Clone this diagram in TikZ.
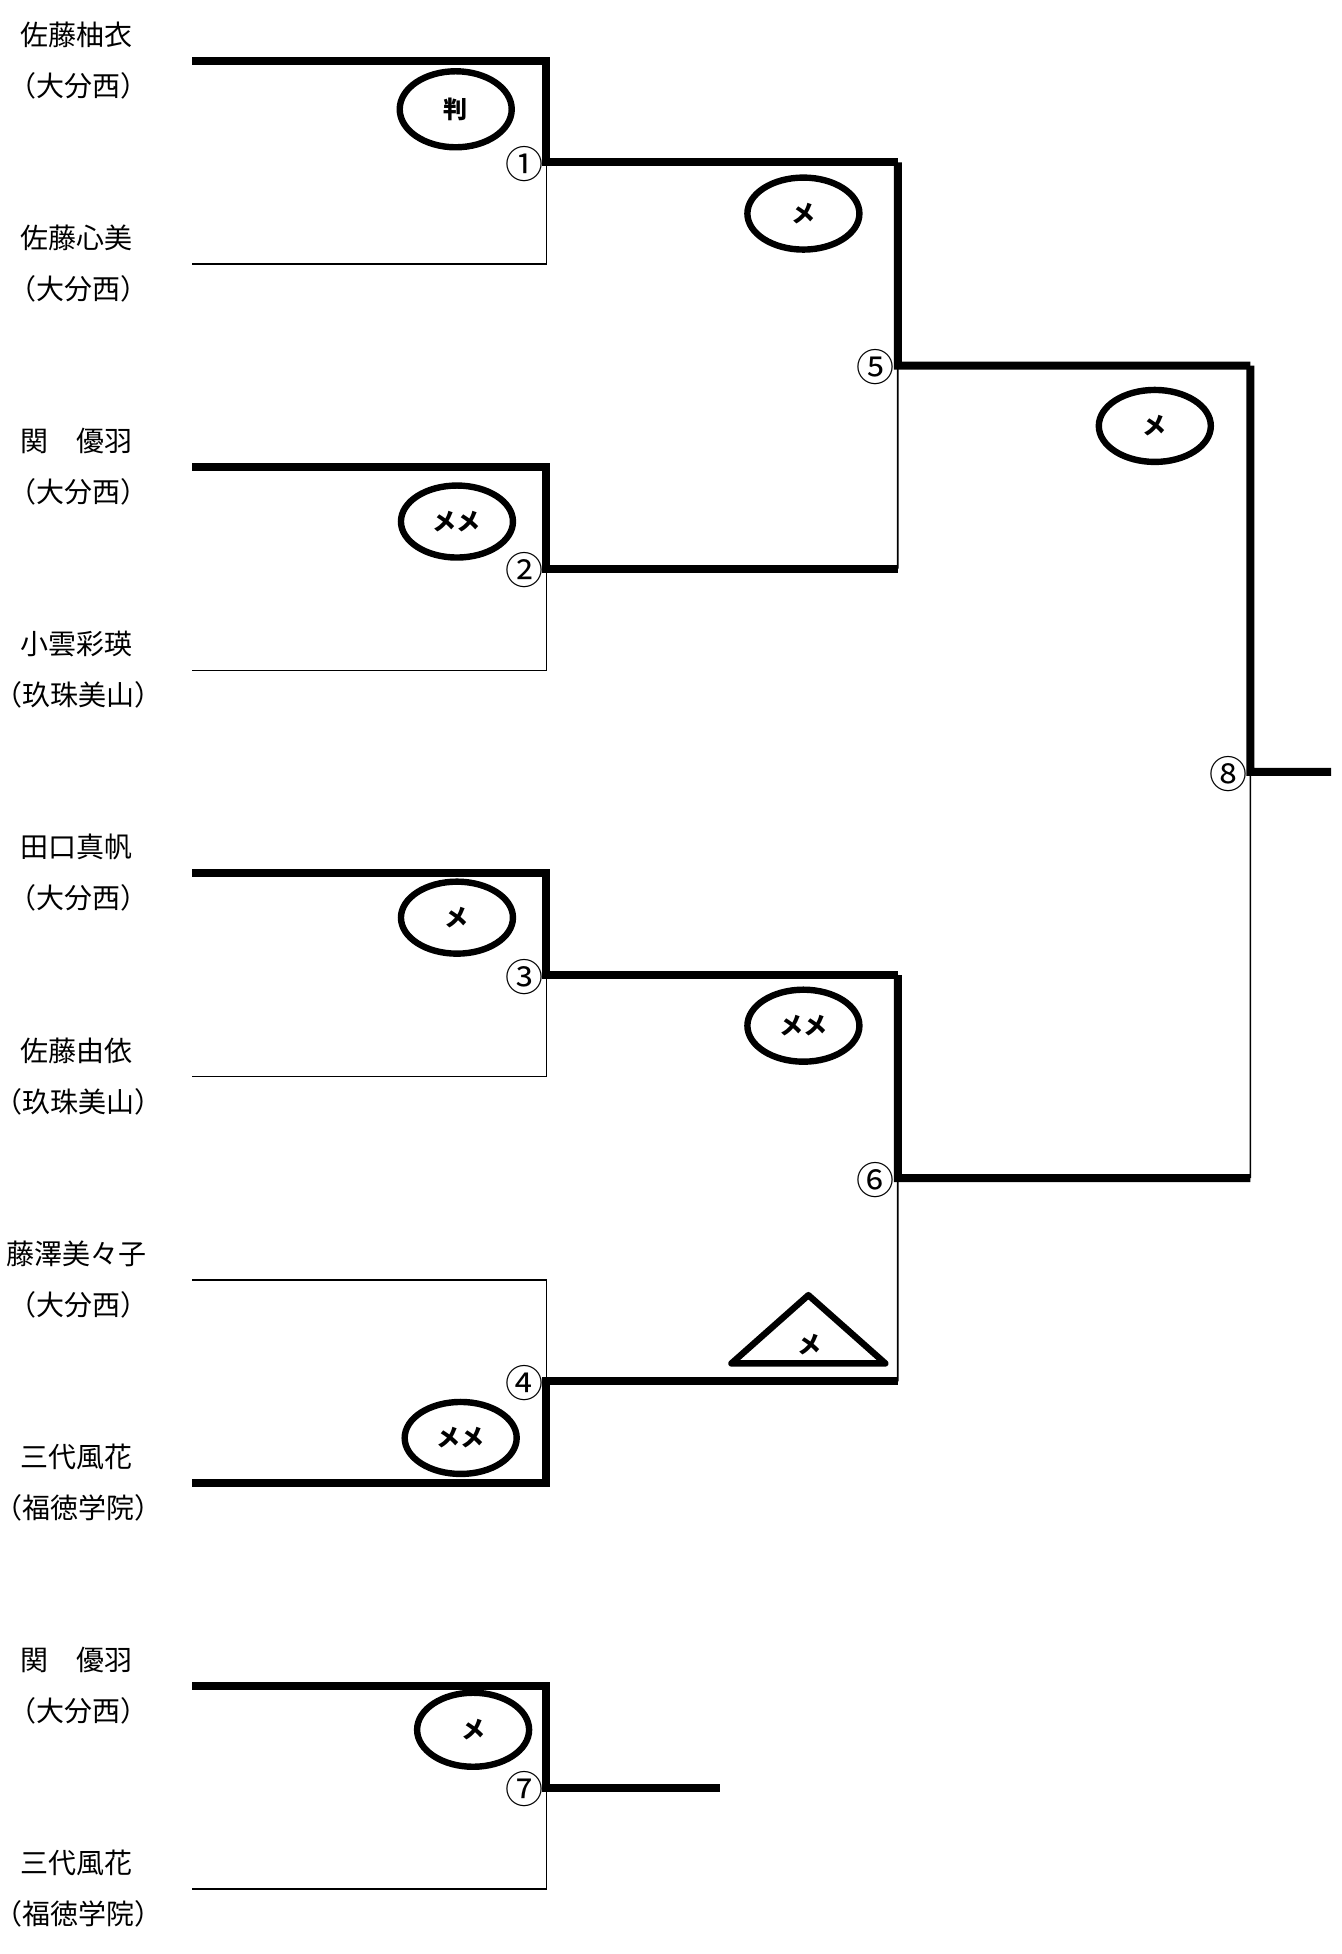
\documentclass[tikz,border=0pt]{standalone}
\usepackage{fontspec}
\newfontfamily\jp{Noto Sans CJK JP}
\newfontfamily\jph{Noto Sans CJK JP}[RawFeature=+halt]
\usetikzlibrary{shapes.geometric, calc}

\tikzset{
    win/.style={line width=4pt},
    lose/.style={line width=0.8pt},
    pname/.style={font=\jp\fontsize{14}{14}\selectfont, inner sep=0pt},
    school/.style={font=\jph\fontsize{14}{14}\selectfont, inner sep=0pt},
    res/.style={draw, ellipse, line width=3.2pt, minimum width=56pt, minimum height=36pt, inner sep=0pt, font=\jp\bfseries\fontsize{12}{12}\selectfont},
    num/.style={font=\jp\fontsize{19}{19}\selectfont, inner sep=0pt, anchor=east}
}

\begin{document}
\begin{tikzpicture}[x=0.6208pt, y=-0.6208pt]
    \useasboundingbox (0,0) rectangle (1080,1573.6);

    % Players, their schools and the start of their lines
    \foreach \i/\nm/\sc in {1/佐藤柚衣/大分西, 2/佐藤心美/大分西, 3/関　優羽/大分西, 4/小雲彩瑛/玖珠美山,
                            5/田口真帆/大分西, 6/佐藤由依/玖珠美山, 7/藤澤美々子/大分西, 8/三代風花/福徳学院,
                            9/関　優羽/大分西, 10/三代風花/福徳学院} {
        \node[pname] (n\i) at (62, {28+163.6*(\i-1)}) {\nm};
        \node[school] (s\i) at (63, {69+163.6*(\i-1)}) {（\sc）};
        \coordinate (p\i) at (155, {49+163.6*(\i-1)});
        \coordinate (q\i) at (440, {49+163.6*(\i-1)});
    }

    % Junctions of the matches
    \coordinate (m1) at ($(q1)!0.5!(q2)$);
    \coordinate (m2) at ($(q3)!0.5!(q4)$);
    \coordinate (m3) at ($(q5)!0.5!(q6)$);
    \coordinate (m4) at ($(q7)!0.5!(q8)$);
    \coordinate (m7) at ($(q9)!0.5!(q10)$);
    \coordinate (r1) at (723, 0 |- m1);
    \coordinate (r2) at (723, 0 |- m2);
    \coordinate (r3) at (723, 0 |- m3);
    \coordinate (r4) at (723, 0 |- m4);
    \coordinate (m5) at ($(r1)!0.5!(r2)$);
    \coordinate (m6) at ($(r3)!0.5!(r4)$);
    \coordinate (t5) at (1007, 0 |- m5);
    \coordinate (t6) at (1007, 0 |- m6);
    \coordinate (m8) at ($(t5)!0.5!(t6)$);
    \coordinate (fin) at (1072, 0 |- m8);
    \coordinate (e7) at (580, 0 |- m7);

    % First round
    \draw[win] (p1) -- (q1) -- (m1) -- (r1);
    \draw[lose] (p2) -- (q2) -- (m1);
    \draw[win] (p3) -- (q3) -- (m2) -- (r2);
    \draw[lose] (p4) -- (q4) -- (m2);
    \draw[win] (p5) -- (q5) -- (m3) -- (r3);
    \draw[lose] (p6) -- (q6) -- (m3);
    \draw[win] (p8) -- (q8) -- (m4) -- (r4);
    \draw[lose] (p7) -- (q7) -- (m4);
    \draw[win] (p9) -- (q9) -- (m7) -- (e7);
    \draw[lose] (p10) -- (q10) -- (m7);

    % Second round and final
    \draw[win] (r1) -- (m5) -- (t5);
    \draw[lose] (r2) -- (m5);
    \draw[win] (r3) -- (m6) -- (t6);
    \draw[lose] (r4) -- (m6);
    \draw[win] (t5) -- (m8) -- (fin);
    \draw[lose] (t6) -- (m8);

    % Match numbers
    \foreach \k/\c in {1/①, 2/②, 3/③, 4/④, 5/⑤, 6/⑥, 7/⑦, 8/⑧} {
        \node[num] (c\k) at ([xshift=-1.4pt, yshift=-0.9pt]m\k) {\c};
    }

    % Results
    \node[res, minimum height=38pt] (w1) at (367, 88) {判};
    \node[res] (w2) at (368, 420) {メメ};
    \node[res] (w3) at (368, 739) {メ};
    \node[res] (w4) at (371, 1158) {メメ};
    \node[res] (w5) at (647, 172) {メ};
    \node[res] (w6) at (647, 826) {メメ};
    \node[res, minimum height=37pt] (w7) at (381, 1393) {メ};
    \node[res] (w8) at (930, 343) {メ};
    \draw[line width=3.2pt, line join=round] (651,1043) -- (713,1098) -- (589,1098) -- cycle;
    \node[font=\jp\bfseries\fontsize{12}{12}\selectfont, inner sep=0pt] (w9) at (652, 1083) {メ};
\end{tikzpicture}
\end{document}
